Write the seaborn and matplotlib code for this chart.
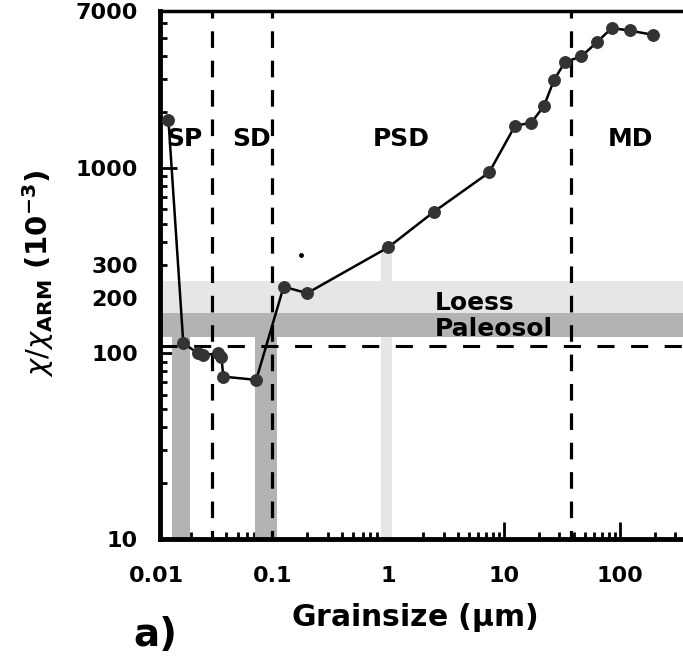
import matplotlib
matplotlib.use("Agg")
import matplotlib.pyplot as plt
import matplotlib.ticker as mticker
import seaborn as sns
import pandas as pd
import numpy as np

# ---------------- data ----------------
grain_um = [0.01265, 0.0170, 0.0229, 0.0251, 0.0338, 0.0363, 0.0376, 0.0724,
            0.125, 0.199, 1.0, 2.49, 7.42, 12.4, 17.2, 22.1, 27.0, 33.5,
            46.4, 63.0, 84.8, 121, 192]
chi_ratio = [1816, 113.5, 100, 98, 100, 96, 75, 72,
             229, 211, 373, 581, 944, 1682, 1754, 2158, 2979, 3715,
             3983, 4741, 5663, 5496, 5210]
stray_x = [0.178]
stray_y = [337]

domain_bounds = [0.03, 0.1, 37.5]          # SP|SD|PSD|MD boundaries (um)
domain_names = ["SP", "SD", "PSD", "MD"]
domain_label_x = [0.0174, 0.0662, 1.28, 122.9]
domain_label_y = 1310
threshold_ratio = 110

loess_band = (165, 245)
paleosol_band = (123, 165)
paleosol_grain_bands = [(0.0137, 0.0195), (0.071, 0.11)]
loess_grain_band = (0.865, 1.076)
loess_grain_top = 373
band_label_x = 2.53
band_label_y = [171, 124]
band_names = ["Loess", "Paleosol"]

xlim = (0.0107, 350)
ylim = (10, 7000)
xticks_major = [0.1, 1, 10, 100]
extra_xtick_label = 0.01
yticks_major = [10, 100, 1000]
yticks_labelled_minor = [200, 300, 7000]

# ---------------- style ----------------
sns.set_theme(style="white")
plt.rcParams["font.family"] = ["DejaVu Sans"]
plt.rcParams["mathtext.fontset"] = "dejavusans"
for key in ["text.color", "axes.labelcolor", "xtick.color", "ytick.color",
            "xtick.labelcolor", "ytick.labelcolor"]:
    plt.rcParams[key] = "black"

LIGHT = "#e6e6e6"
DARK = "#b3b3b3"

fig = plt.figure(figsize=(6.83, 6.59), dpi=100)
ax = fig.add_axes([160 / 683, 120 / 659, 523 / 683, 528 / 659])
ax.set_xscale("log")
ax.set_yscale("log")
ax.set_xlim(*xlim)
ax.set_ylim(*ylim)

# vertical light bar (behind bands)
ax.fill_betweenx([ylim[0], loess_grain_top], loess_grain_band[0], loess_grain_band[1],
                 color=LIGHT, lw=0, zorder=1)
# horizontal bands
ax.axhspan(*loess_band, color=LIGHT, lw=0, zorder=1.5)
ax.axhspan(*paleosol_band, color=DARK, lw=0, zorder=1.6)
for x0, x1 in paleosol_grain_bands:
    ax.fill_betweenx([ylim[0], paleosol_band[0]], x0, x1, color=DARK, lw=0, zorder=1.6)

# dashed reference lines
for xb in domain_bounds:
    ax.plot([xb, xb], [ylim[1], ylim[0]], color="black", lw=2.3,
            linestyle=(3, (5.2, 4.0)), zorder=2)
ax.axhline(threshold_ratio, color="black", lw=2.2, linestyle=(0, (5.6, 5.4)), zorder=2)

# data
df = pd.DataFrame({"grain": grain_um, "ratio": chi_ratio})
sns.lineplot(data=df, x="grain", y="ratio", ax=ax, color="black", lw=1.8,
             marker="o", markersize=8.5, markerfacecolor="#333333",
             markeredgecolor="#333333", sort=False, zorder=5)
ax.plot(stray_x, stray_y, marker="o", ms=2.5, color="black", lw=0, zorder=5)

# labels inside
for name, xl in zip(domain_names, domain_label_x):
    ax.text(xl, domain_label_y, name, ha="center", va="baseline",
            fontsize=18, fontweight="bold", color="black", zorder=6)
for name, yl in zip(band_names, band_label_y):
    ax.text(band_label_x, yl, name, ha="left", va="baseline",
            fontsize=18, fontweight="bold", color="black", zorder=6)

# axes styling
for side in ["left", "bottom"]:
    ax.spines[side].set_linewidth(3.5)
    ax.spines[side].set_color("black")
ax.spines["top"].set_linewidth(2.5)
ax.spines["top"].set_color("black")
ax.spines["right"].set_visible(False)

ax.xaxis.set_major_locator(mticker.FixedLocator(xticks_major))
ax.xaxis.set_major_formatter(mticker.FixedFormatter([f"{v:g}" for v in xticks_major]))
ax.xaxis.set_minor_locator(mticker.LogLocator(base=10, subs=np.arange(2, 10)))
ax.xaxis.set_minor_formatter(mticker.NullFormatter())

ax.yaxis.set_major_locator(mticker.FixedLocator(yticks_major))
ax.yaxis.set_major_formatter(mticker.FixedFormatter([f"{v:g}" for v in yticks_major]))
ax.yaxis.set_minor_locator(mticker.LogLocator(base=10, subs=np.arange(2, 10)))
ax.yaxis.set_minor_formatter(mticker.FuncFormatter(
    lambda v, p: f"{v:g}" if any(abs(v - t) < 1e-6 * t for t in yticks_labelled_minor) else ""))

ax.tick_params(axis="both", which="major", direction="in", length=12, width=2,
               color="black", labelcolor="black", labelsize=16,
               bottom=True, left=True, top=False, right=False)
ax.tick_params(axis="both", which="minor", direction="in", length=5, width=2,
               color="black", labelcolor="black", labelsize=16,
               bottom=True, left=True, top=False, right=False)
ax.tick_params(axis="x", which="both", pad=19.5)
ax.tick_params(axis="y", which="both", pad=16)
for lab in ax.get_xticklabels() + ax.get_yticklabels() + \
        ax.get_yticklabels(minor=True):
    lab.set_fontweight("bold")

ax.annotate(f"{extra_xtick_label:g}", xy=(extra_xtick_label, 0),
            xycoords=("data", "axes fraction"), xytext=(0, -19.5),
            textcoords="offset points", ha="center", va="top", color="black",
            fontsize=16, fontweight="bold", annotation_clip=False)

ax.set_xlabel(r"Grainsize ($\mathbf{\mu}$m)", fontsize=21.5, fontweight="bold",
              color="black")
ax.xaxis.set_label_coords((414 - 160) / 523, (539 - 618) / 528)
ax.xaxis.label.set_va("center")

ax.set_ylabel(r"$\chi/\chi_{\mathbf{ARM}}$ (10$^{\mathbf{-3}}$)", fontsize=21,
              fontweight="bold", color="black")
ax.yaxis.set_label_coords((38 - 160) / 523, (539 - 273) / 528)
ax.yaxis.label.set_va("center")

fig.text(155 / 683, 1 - 635 / 659, "a)", ha="center", va="center",
         fontsize=28, fontweight="bold", color="black")

fig.savefig("out.png", dpi=100)
